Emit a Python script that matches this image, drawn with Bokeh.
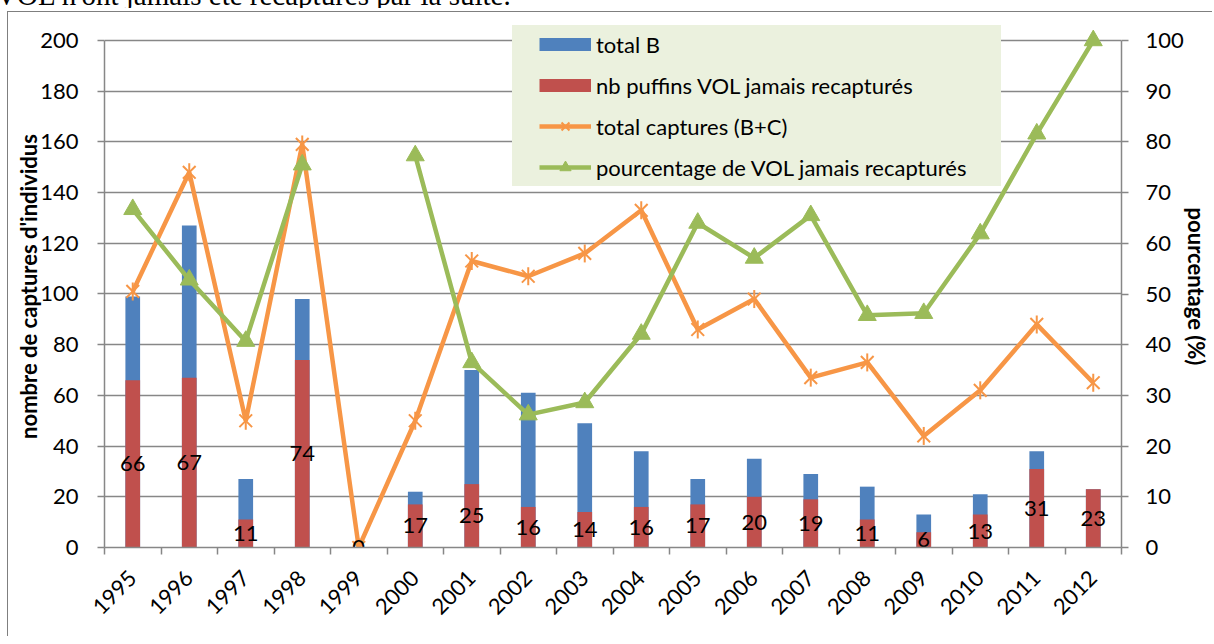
import numpy as np
from bokeh.plotting import figure
from bokeh.layouts import column
from bokeh.models import (Range1d, LinearAxis, FixedTicker, Legend, LegendItem,
                          ColumnDataSource, Div)
from bokeh.core.properties import value
from bokeh.embed import file_html
from bokeh.resources import INLINE

# ---------------- data ----------------
years = ["1995", "1996", "1997", "1998", "1999", "2000", "2001", "2002", "2003",
         "2004", "2005", "2006", "2007", "2008", "2009", "2010", "2011", "2012"]
total_B = [99, 127, 27, 98, 0, 22, 70, 61, 49, 38, 27, 35, 29, 24, 13, 21, 38, 23]
never_recaptured = [66, 67, 11, 74, 0, 17, 25, 16, 14, 16, 17, 20, 19, 11, 6, 13, 31, 23]
total_captures = [101, 148, 50, 159, 0, 50, 113, 107, 116, 133, 86, 98, 67, 73, 44, 62, 88, 65]
pct_never = [66.7, 52.8, 40.7, 75.5, np.nan, 77.3, 36.5, 26.2, 28.6, 42.1, 64.0, 57.1,
             65.5, 45.8, 46.2, 61.9, 81.6, 100.0]

left_ticks = list(range(0, 201, 20))
right_ticks = list(range(0, 101, 10))

# ---------------- style ----------------
FONT = "Lato"
BLUE = "#4F81BD"
RED = "#C0504D"
ORANGE = "#F79646"
GREEN = "#9BBB59"
GRID = "#878787"
LEGEND_BG = "#EBF1DE"

W, H = 1212, 628
TOP_STRIP = 8

n = len(years)
idx = np.arange(n)
src = ColumnDataSource(dict(
    x=idx, b=total_B, r=never_recaptured, c=total_captures, p=pct_never,
    lab_y=np.array(never_recaptured, dtype=float) / 2,
    lab=[str(v) for v in never_recaptured]))

# frame extends a little above the 200 line so the legend can sit there
p = figure(width=W, height=H, output_backend="svg", toolbar_location=None,
           x_range=Range1d(-0.5, n - 0.5), y_range=Range1d(0, 205.9),
           min_border_left=104, min_border_right=86, min_border_top=17,
           min_border_bottom=89, outline_line_color=None,
           background_fill_color="white", border_fill_color=None, margin=0)
p.styles = {"background": ("linear-gradient(#7f7f7f,#7f7f7f) 7px 3px / 100% 1px no-repeat, "
                           "linear-gradient(#7f7f7f,#7f7f7f) 7px 3px / 1px 100% no-repeat")}

p.extra_y_ranges = {"pct": Range1d(0, 102.96)}

# x axis
xax = p.xaxis[0]
xax.ticker = FixedTicker(ticks=[int(i) for i in idx],
                         minor_ticks=[float(v) for v in np.arange(n + 1) - 0.5])
xax.major_label_overrides = {int(i): y for i, y in zip(idx, years)}
xax.major_label_orientation = np.pi / 4
xax.major_tick_line_color = None
xax.major_tick_out = 7
xax.major_tick_in = 0
xax.minor_tick_out = 7
xax.minor_tick_in = 0
xax.minor_tick_line_color = GRID
xax.minor_tick_line_width = 1.5
xax.axis_line_color = GRID
xax.axis_line_width = 1.5
xax.major_label_standoff = 20
xax.major_label_text_font = FONT
xax.major_label_text_font_size = "22px"
xax.major_label_text_color = "black"

# left axis
yax = p.yaxis[0]
yax.ticker = FixedTicker(ticks=left_ticks, minor_ticks=[])
yax.bounds = (0, 200)
yax.axis_label = "nombre de captures d'individus"
yax.axis_label_text_font = FONT
yax.axis_label_text_font_style = "bold"
yax.axis_label_text_font_size = "22px"
yax.axis_label_text_color = "black"
yax.axis_label_standoff = -5
yax.major_tick_out = 7
yax.major_tick_in = 0
yax.major_tick_line_color = GRID
yax.major_tick_line_width = 1.5
yax.axis_line_color = GRID
yax.axis_line_width = 1.5
yax.major_label_standoff = 19
yax.major_label_text_font = FONT
yax.major_label_text_font_size = "22px"
yax.major_label_text_color = "black"

# right axis
rax = LinearAxis(y_range_name="pct", ticker=FixedTicker(ticks=right_ticks, minor_ticks=[]))
rax.bounds = (0, 100)
rax.axis_label = "pourcentage (%)"
rax.axis_label_text_font = FONT
rax.axis_label_text_font_style = "bold"
rax.axis_label_text_font_size = "22px"
rax.axis_label_text_color = "black"
rax.axis_label_standoff = -4
rax.major_tick_out = 7
rax.major_tick_in = 0
rax.major_tick_line_color = GRID
rax.major_tick_line_width = 1.5
rax.axis_line_color = GRID
rax.axis_line_width = 1.5
rax.major_label_standoff = 17
rax.major_label_text_font = FONT
rax.major_label_text_font_size = "22px"
rax.major_label_text_color = "black"
p.add_layout(rax, "right")

p.xgrid.visible = False
p.ygrid.ticker = FixedTicker(ticks=left_ticks, minor_ticks=[])
p.ygrid.grid_line_color = GRID
p.ygrid.grid_line_width = 1.5

# bars (overlapping, red in front)
p.vbar(x="x", top="b", width=0.26, source=src, fill_color=BLUE, line_color=None)
p.vbar(x="x", top="r", width=0.26, source=src, fill_color=RED, line_color=None)

# orange line with star markers
o_line = p.line(x="x", y="c", source=src, line_color=ORANGE, line_width=4.5)
o_x = p.scatter(x="x", y="c", source=src, marker="x", size=18, line_color=ORANGE, line_width=2)
o_d = p.scatter(x="x", y="c", source=src, marker="dash", angle=np.pi / 2, size=18,
                line_color=ORANGE, line_width=2)

# green line with triangles
g_line = p.line(x="x", y="p", source=src, y_range_name="pct", line_color=GREEN, line_width=4.5)
g_tri = p.scatter(x="x", y="p", source=src, y_range_name="pct", marker="triangle", size=18,
                  fill_color=GREEN, line_color=GREEN)

# data labels
p.text(x="x", y="lab_y", text="lab", source=src, text_align="center",
       text_baseline="middle", text_font=value(FONT), text_font_size="22px",
       text_color="black")

# legend swatches for bars (no visible data)
sw_b = p.line(x=[0, 0], y=[np.nan, np.nan], line_color=BLUE, line_width=13)
sw_r = p.line(x=[0, 0], y=[np.nan, np.nan], line_color=RED, line_width=13)
bg_dummy = p.line(x=[0, 0], y=[np.nan, np.nan], line_alpha=0)

bg_legend = Legend(items=[LegendItem(label=" ", renderers=[bg_dummy])],
                   location=(408, 361), padding=0, spacing=0, margin=0,
                   glyph_width=489, glyph_height=161, label_width=0, label_height=0,
                   label_standoff=0, label_text_font_size="1px",
                   background_fill_color=LEGEND_BG, background_fill_alpha=1,
                   border_line_color=None)
p.add_layout(bg_legend)

legend = Legend(items=[
    LegendItem(label="total B", renderers=[sw_b]),
    LegendItem(label="nb puffins VOL jamais recapturés", renderers=[sw_r]),
    LegendItem(label="total captures (B+C)", renderers=[o_line, o_x, o_d]),
    LegendItem(label="pourcentage de VOL jamais recapturés", renderers=[g_line, g_tri]),
], location=(435, 366), padding=6, spacing=13, margin=0, glyph_width=52,
    glyph_height=28, label_standoff=5, label_text_font=FONT,
    label_text_font_size="22px", label_text_color="black",
    background_fill_alpha=0, border_line_color=None)
p.add_layout(legend)

# fragment of the document text just above the chart (cut off at the top, as in the page)
doc_text = "VOL n'ont jamais été recapturés par la suite."
strip = Div(text=('<div style="position:relative; top:-21px; left:-4px; '
                  "font-family:'Liberation Serif'; font-size:29px; line-height:1.15; "
                  'white-space:nowrap; color:black">' + doc_text + '</div>'),
            width=W, height=TOP_STRIP, margin=0, styles={"overflow": "hidden"})

layout = column(strip, p, spacing=0)

open("out.html", "w").write(file_html(layout, INLINE))
